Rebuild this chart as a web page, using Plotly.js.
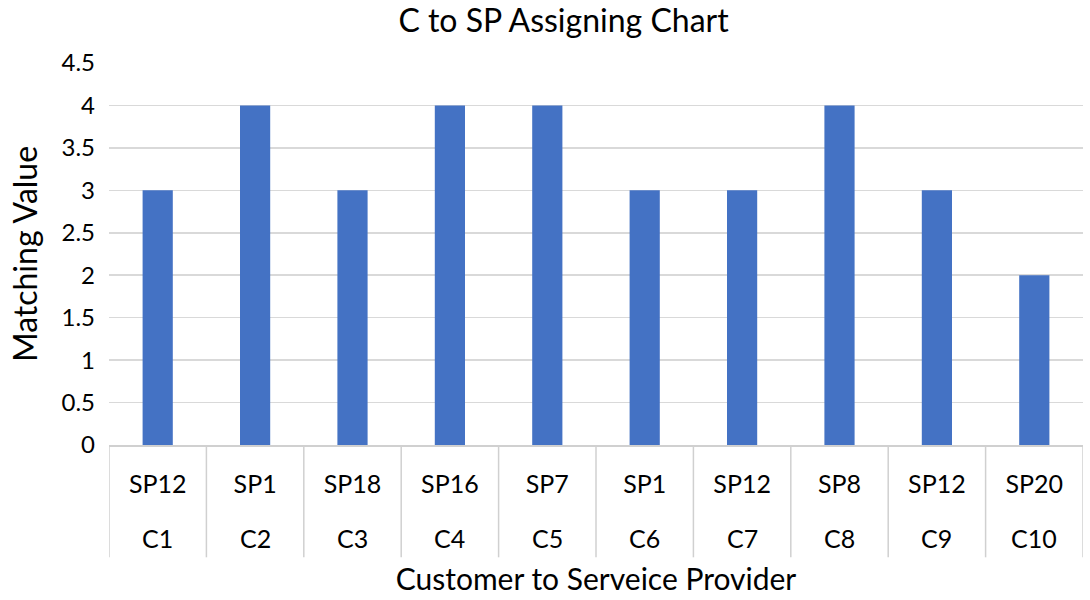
<!DOCTYPE html>
<html><head><meta charset="utf-8">
<script src="https://cdn.plot.ly/plotly-3.0.1.min.js"></script>
<style>html,body{margin:0;padding:0;background:#fff}#chart{width:1090px;height:600px}</style>
</head><body><div id="chart"></div>
<script>
const customers = ["C1","C2","C3","C4","C5","C6","C7","C8","C9","C10"];
const providers = ["SP12","SP1","SP18","SP16","SP7","SP1","SP12","SP8","SP12","SP20"];
const values = [3,4,3,4,4,3,3,4,3,2];
const yTicks = [0,0.5,1,1.5,2,2.5,3,3.5,4,4.5];

const font = "Lato, 'Open Sans', sans-serif";
const annotations = customers.map((c,i)=>({
  x: i, y: 0, xref: 'x', yref: 'y', yanchor: 'middle', yshift: -93,
  text: c, showarrow: false, font: {family: font, size: 25, color: '#000'}
}));

const trace = {
  type: 'bar', x: customers.map((c,i)=>i), y: values,
  marker: {color: '#4472C4'}, width: 0.31, hoverinfo: 'skip'
};
const layout = {
  width: 1090, height: 600,
  margin: {l: 109, r: 7, t: 63, b: 155},
  paper_bgcolor: '#fff', plot_bgcolor: '#fff',
  font: {family: font, color: '#000'},
  title: {text: 'C to SP Assigning Chart', x: 0.517, xanchor: 'center', y: 0.965, yanchor: 'middle', font: {family: font, size: 32, color: '#000'}},
  showlegend: false,
  xaxis: {
    range: [-0.5, 9.5], tickmode: 'array', tickvals: customers.map((c,i)=>i), ticktext: providers,
    tickfont: {family: font, size: 25, color: '#000'},
    ticks: '', ticklabelstandoff: 16, showgrid: false, zeroline: false,
    showline: true, linecolor: '#d0d0d0', linewidth: 1.5,
    title: {text: 'Customer to Serveice Provider', standoff: 72, font: {family: font, size: 30, color: '#000'}}
  },
  yaxis: {
    range: [0, 4.5], tickmode: 'array', tickvals: yTicks, ticktext: yTicks.map(String),
    tickfont: {family: font, size: 24, color: '#000'},
    showgrid: true, gridcolor: '#d9d9d9', gridwidth: 1.5, zeroline: false, showline: false,
    ticks: '', ticklabelstandoff: 13,
    title: {text: 'Matching Value', standoff: 14, font: {family: font, size: 32, color: '#000'}}
  },
  annotations: annotations,
  shapes: customers.concat(['end']).map((c,i)=>({
    type: 'line', xref: 'x', yref: 'paper', x0: i-0.5, x1: i-0.5, y0: 0, y1: -0.294,
    line: {color: '#d0d0d0', width: 1.5}
  }))
};
Plotly.newPlot('chart', [trace], layout, {displayModeBar: false, staticPlot: true});
</script></body></html>
